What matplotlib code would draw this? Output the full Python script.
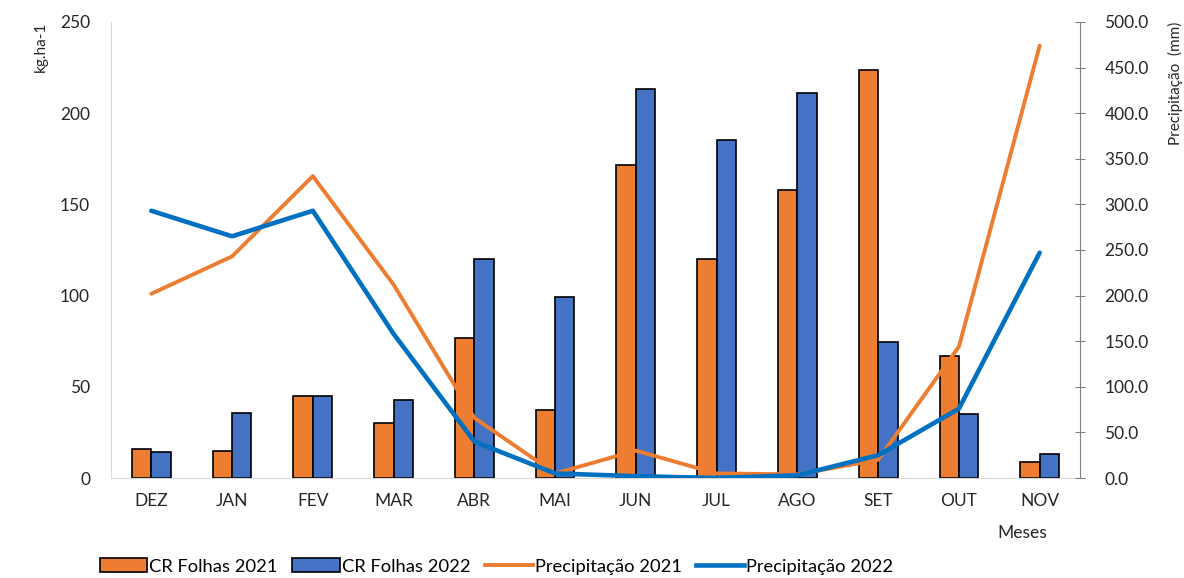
import numpy as np
import matplotlib.pyplot as plt
from matplotlib.patches import Patch
from matplotlib.lines import Line2D

plt.rcParams['font.family'] = ['Lato', 'DejaVu Sans']

meses = ['DEZ', 'JAN', 'FEV', 'MAR', 'ABR', 'MAI', 'JUN', 'JUL', 'AGO', 'SET', 'OUT', 'NOV']
cr_folhas_2021 = [16, 15, 45, 30, 77, 37.5, 171.5, 120, 158, 223.5, 67, 9]
cr_folhas_2022 = [14, 35.5, 45, 43, 120, 99, 213.5, 185.5, 211, 74.5, 35, 13]
precip_2021 = [202, 243, 331, 212, 66, 5, 30, 5, 4, 20, 144, 474]
precip_2022 = [293, 265, 293, 158, 40, 5, 2, 0, 3, 25, 76, 247]

laranja = '#ED7D31'
azul_barra = '#4472C4'
azul_linha = '#0070C0'
texto = '#262626'

fig = plt.figure(figsize=(11.84, 5.78), dpi=100)
ax = fig.add_axes([0.0937, 0.173, 0.8185, 0.789])
ax2 = ax.twinx()

x = np.arange(len(meses))
w = 0.24
ax.bar(x - w / 2, cr_folhas_2021, w, color=laranja, edgecolor='black', linewidth=1.2, zorder=2)
ax.bar(x + w / 2, cr_folhas_2022, w, color=azul_barra, edgecolor='black', linewidth=1.2, zorder=2)

ax2.plot(x, precip_2021, color=laranja, linewidth=2.8, solid_capstyle='round', zorder=3)
ax2.plot(x, precip_2022, color=azul_linha, linewidth=3.3, solid_capstyle='round', zorder=4)

ax.set_xlim(-0.5, len(meses) - 0.5)
ax.set_ylim(0, 250)
ax.set_yticks([0, 50, 100, 150, 200, 250])
ax2.set_ylim(0, 500)
ax2.set_yticks(np.arange(0, 501, 50))
ax2.set_yticklabels([f'{v:.1f}' for v in np.arange(0, 501, 50)])

ax.set_xticks(x)
ax.set_xticklabels(meses)

for a in (ax, ax2):
    a.spines['top'].set_visible(False)
ax.spines['right'].set_visible(False)
ax.spines['left'].set_color('#D9D9D9')
ax.spines['bottom'].set_color('#D9D9D9')
ax2.spines['left'].set_visible(False)
ax2.spines['bottom'].set_visible(False)
ax2.spines['right'].set_color('#808080')

ax.tick_params(axis='y', length=0, labelsize=12.5, colors=texto, pad=15)
ax.tick_params(axis='x', length=0, labelsize=12.5, colors=texto, pad=11)
ax2.tick_params(axis='y', direction='inout', length=7, labelsize=12.5,
                colors=texto, pad=14)
ax2.tick_params(axis='y', color='#808080')

ax.text(-0.072, 1.0, 'kg.ha-1', transform=ax.transAxes, rotation=90,
        ha='center', va='top', fontsize=11, color=texto)
ax2.text(1.098, 1.0, 'Precipitação  (mm)', transform=ax2.transAxes, rotation=90,
         ha='center', va='top', fontsize=11, color=texto)
ax.text(0.94, -0.12, 'Meses', transform=ax.transAxes, ha='center', va='center',
        fontsize=12.5, color=texto)

handles = [
    Patch(facecolor=laranja, edgecolor='black', linewidth=1.2),
    Patch(facecolor=azul_barra, edgecolor='black', linewidth=1.2),
    Line2D([0], [0], color=laranja, linewidth=2.8),
    Line2D([0], [0], color=azul_linha, linewidth=3.3),
]
labels = ['CR Folhas 2021', 'CR Folhas 2022', 'Precipitação 2021', 'Precipitação 2022']
fig.legend(handles, labels, loc='center left', bbox_to_anchor=(0.078, 0.02), ncol=4,
           frameon=False, fontsize=13.2, handlelength=2.6, handleheight=0.8,
           handletextpad=0.1, columnspacing=0.8, borderaxespad=0)

fig.savefig('out.png', dpi=100)
